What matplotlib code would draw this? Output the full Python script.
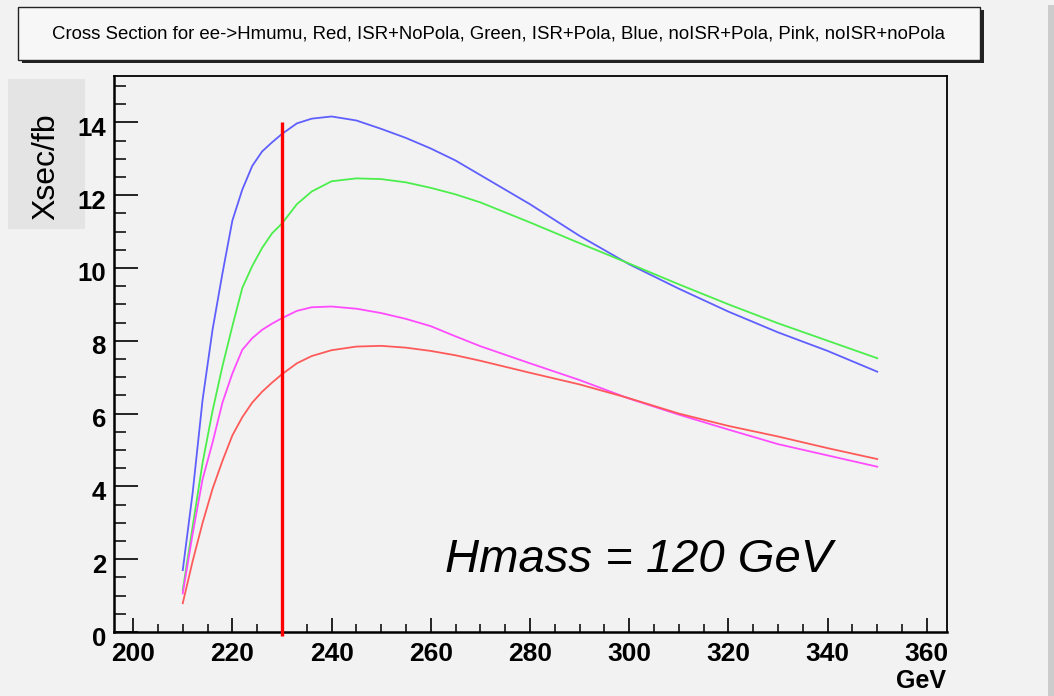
import matplotlib
matplotlib.use("Agg")
import matplotlib.pyplot as plt
from matplotlib.patches import Rectangle
from matplotlib.ticker import MultipleLocator
import matplotlib.transforms as mtransforms

plt.rcParams['font.family'] = ['Liberation Sans', 'DejaVu Sans']

# ---- data ----
energy = [210, 212, 214, 216, 218, 220, 222, 224, 226, 228, 230, 233, 236, 240,
          245, 250, 255, 260, 265, 270, 280, 290, 300, 310, 320, 330, 340, 350]
xsec_isr_nopola = [0.79, 1.95, 3.00, 3.93, 4.70, 5.40, 5.90, 6.30, 6.60, 6.85, 7.08,
                   7.38, 7.58, 7.74, 7.84, 7.86, 7.81, 7.72, 7.60, 7.45, 7.12, 6.80,
                   6.42, 6.00, 5.66, 5.37, 5.05, 4.75]          # red
xsec_isr_pola = [1.15, 2.90, 4.65, 6.07, 7.30, 8.40, 9.45, 10.05, 10.55, 10.95, 11.22,
                 11.75, 12.10, 12.38, 12.46, 12.44, 12.35, 12.20, 12.02, 11.80, 11.25,
                 10.68, 10.12, 9.55, 9.00, 8.48, 8.00, 7.52]     # green
xsec_noisr_pola = [1.70, 3.83, 6.38, 8.30, 9.85, 11.30, 12.15, 12.80, 13.20, 13.45,
                   13.68, 13.97, 14.10, 14.16, 14.05, 13.82, 13.57, 13.28, 12.95,
                   12.55, 11.75, 10.88, 10.10, 9.43, 8.80, 8.23, 7.72, 7.15]  # blue
xsec_noisr_nopola = [1.06, 2.70, 4.20, 5.20, 6.30, 7.10, 7.75, 8.07, 8.30, 8.47, 8.62,
                     8.82, 8.92, 8.94, 8.88, 8.76, 8.60, 8.40, 8.12, 7.85, 7.38, 6.92,
                     6.41, 5.97, 5.56, 5.16, 4.85, 4.54]         # pink
cut_energy = 230
cut_top = 14

title_text = ("Cross Section for ee->Hmumu, Red, ISR+NoPola, Green, ISR+Pola, "
              "Blue, noISR+Pola, Pink, noISR+noPola")
ylabel_text = "Xsec/fb"
xlabel_text = "GeV"
note_text = "Hmass = 120 GeV"

W, H = 1054, 696
BG = '#f2f2f2'
fig = plt.figure(figsize=(W / 100, H / 100), dpi=100, facecolor=BG)

def fx(px):
    return px / W

def fy(py):
    return 1 - py / H

# right-hand border strip
fig.patches.append(Rectangle((fx(1048), 0), fx(6), fy(5), transform=fig.transFigure,
                             facecolor='#cccccc', edgecolor='none', zorder=0))

# axes
ax_l, ax_r, ax_t, ax_b = 114.3, 946.7, 75.7, 632
ax = fig.add_axes([fx(ax_l), fy(ax_b), (ax_r - ax_l) / W, (ax_b - ax_t) / H])
ax.set_zorder(3)
ax.set_facecolor(BG)
ax.set_xlim(196.2, 364.0)
ax.set_ylim(0, 15.28)

ax.plot(energy, xsec_noisr_pola, color='#5f5fff', lw=1.3)
ax.plot(energy, xsec_isr_pola, color='#4cee4c', lw=1.3)
ax.plot(energy, xsec_noisr_nopola, color='#ff4cff', lw=1.3)
ax.plot(energy, xsec_isr_nopola, color='#ff5a5a', lw=1.3)
ax.plot([cut_energy, cut_energy], [-0.1, cut_top], color='#ff0000', lw=2.4,
        clip_on=False, solid_capstyle='butt', zorder=5)

for s in ['left', 'bottom']:
    ax.spines[s].set_linewidth(1.8)
for s in ['top', 'right']:
    ax.spines[s].set_linewidth(1.3)

ax.xaxis.set_major_locator(MultipleLocator(20))
ax.xaxis.set_minor_locator(MultipleLocator(5))
ax.yaxis.set_major_locator(MultipleLocator(2))
ax.yaxis.set_minor_locator(MultipleLocator(0.5))
ax.tick_params(axis='x', which='major', direction='in', length=10, width=1.2,
               labelsize=19, pad=7)
ax.tick_params(axis='x', which='minor', direction='in', length=5.5, width=1.1)
ax.tick_params(axis='y', which='major', direction='in', length=17, width=1.2,
               labelsize=18.5, pad=6)
ax.tick_params(axis='y', which='minor', direction='in', length=8.5, width=1.1)
ax.tick_params(top=False, right=False, which='both')
for lab in ax.get_xticklabels() + ax.get_yticklabels():
    lab.set_fontweight('bold')
off = mtransforms.ScaledTranslation(0, -4 / 100, fig.dpi_scale_trans)
for lab in ax.get_yticklabels():
    lab.set_transform(lab.get_transform() + off)

# x label
fig.text(fx(946), fy(688), xlabel_text, ha='right', va='baseline',
         fontsize=18, fontweight='bold')

# note
fig.text(fx(445), fy(572), note_text, ha='left', va='baseline',
         fontsize=34, style='italic', zorder=4)

# y label box
fig.patches.append(Rectangle((fx(8), fy(229)), fx(77), (229 - 79) / H,
                             transform=fig.transFigure, facecolor='#e4e4e4',
                             edgecolor='none', zorder=1))
fig.text(fx(46.5), fy(166.5), ylabel_text, rotation=90, ha='center', va='center',
         fontsize=23, zorder=2)

# title box with shadow
bx0, bx1, by0, by1 = 18, 980, 7, 60
fig.patches.append(Rectangle((fx(bx0 + 4), fy(by1 + 3)), fx(bx1 - bx0), (by1 - by0) / H,
                             transform=fig.transFigure, facecolor='#222222',
                             edgecolor='none', zorder=1))
fig.patches.append(Rectangle((fx(bx0), fy(by1)), fx(bx1 - bx0), (by1 - by0) / H,
                             transform=fig.transFigure, facecolor='#f7f7f7',
                             edgecolor='#222222', lw=1.0, zorder=2))
t = fig.text(fx(498), fy(34), title_text, ha='center', va='center', fontsize=13,
             zorder=3)
fig.canvas.draw()
w = t.get_window_extent().width
t.set_fontsize(13 * 893 / w)

fig.savefig('out.png', dpi=100, facecolor=BG)
